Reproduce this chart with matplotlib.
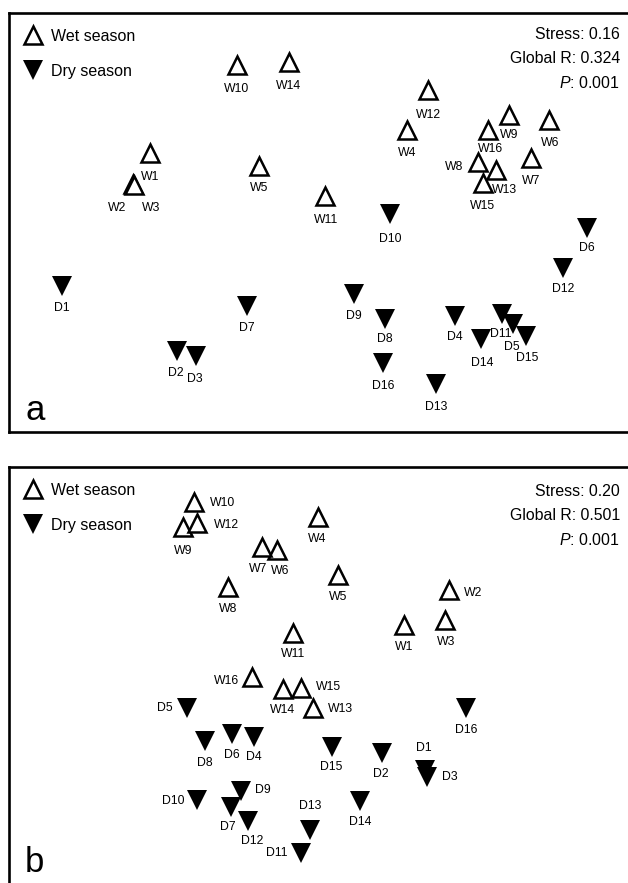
import matplotlib
matplotlib.use("Agg")
import matplotlib.pyplot as plt
from matplotlib.lines import Line2D

plt.rcParams['font.family'] = ['Liberation Sans', 'DejaVu Sans']
plt.rcParams['mathtext.fontset'] = 'custom'
plt.rcParams['mathtext.rm'] = 'Liberation Sans'
plt.rcParams['mathtext.it'] = 'Liberation Sans:italic'

sites = [str(i) for i in range(1, 17)]

# nMDS ordination, panel a
a_wet_x = [-1.70, -1.87, -1.86, 0.87, -0.61, 2.29, 2.11, 1.58, 1.89, -0.83, 0.05, 1.08, 1.76, -0.31, 1.63, 1.68]
a_wet_y = [0.69, 0.38, 0.37, 0.92, 0.56, 1.02, 0.64, 0.60, 1.07, 1.57, 0.26, 1.32, 0.52, 1.60, 0.39, 0.92]
a_dry_x = [-2.58, -1.43, -1.24, 1.35, 1.93, 2.67, -0.73, 0.65, 0.34, 0.70, 1.82, 2.43, 1.16, 1.61, 2.06, 0.63]
a_dry_y = [-0.64, -1.29, -1.34, -0.94, -1.02, -0.06, -0.84, -0.97, -0.72, 0.08, -0.92, -0.46, -1.62, -1.17, -1.14, -1.41]
a_stats = ["Stress: 0.16", "Global R: 0.324", "$P$: 0.001"]

# nMDS ordination, panel b
b_wet_x = [0.84, 1.29, 1.25, -0.02, 0.18, -0.43, -0.58, -0.92, -1.37, -1.26, -0.27, -1.23, -0.07, -0.37, -0.19, -0.68]
b_wet_y = [0.50, 0.85, 0.55, 1.58, 1.00, 1.25, 1.28, 0.88, 1.48, 1.73, 0.42, 1.52, -0.33, -0.14, -0.13, -0.02]
b_dry_x = [1.05, 0.62, 1.07, -0.66, -1.33, -0.88, -0.89, -1.15, -0.79, -1.23, -0.19, -0.72, -0.10, 0.40, 0.12, 1.46]
b_dry_y = [-0.95, -0.78, -1.02, -0.62, -0.33, -0.59, -1.32, -0.66, -1.16, -1.25, -1.78, -1.46, -1.55, -1.26, -0.72, -0.33]
b_stats = ["Stress: 0.20", "Global R: 0.501", "$P$: 0.001"]

# label offsets in pixels (dx, dy) from the marker centre
a_offsets = {
    'W1': (0, -24), 'W2': (-16, -24), 'W3': (17, -23), 'W4': (0, -23.5), 'W5': (0, -22),
    'W6': (1, -23.5), 'W7': (0, -23.5), 'W8': (-24, -5), 'W9': (0, -20.5), 'W10': (0, -24.5),
    'W11': (1, -24.5), 'W12': (0, -25), 'W13': (9, -20.5), 'W14': (0, -24), 'W15': (0, -23.5),
    'W16': (2, -19),
    'D1': (0, -22), 'D2': (-1, -22), 'D3': (-1, -22.5), 'D4': (0, -21.5), 'D5': (-1, -23),
    'D6': (0, -20), 'D7': (0, -22), 'D8': (0, -20), 'D9': (0, -22.5), 'D10': (0, -25),
    'D11': (-1, -20), 'D12': (0, -21), 'D13': (0, -23), 'D14': (1, -24), 'D15': (1, -22),
    'D16': (0, -23),
}
b_offsets = {
    'W1': (0, -21.5), 'W2': (24, -2.5), 'W3': (1, -22), 'W4': (-1, -22), 'W5': (0, -22.5),
    'W6': (3, -20.5), 'W7': (-4, -22.5), 'W8': (0, -22.5), 'W9': (0, -23.5), 'W10': (29, -1.5),
    'W11': (0, -21), 'W12': (29, -2.5), 'W13': (27, -1), 'W14': (-1, -21), 'W15': (27, 0.5),
    'W16': (-26, -3.5),
    'D1': (-1, 22), 'D2': (-1, -21), 'D3': (23, 0), 'D4': (0, -20.5), 'D5': (-22, 0),
    'D6': (0, -21), 'D7': (-3, -20), 'D8': (0, -22), 'D9': (22, 1), 'D10': (-24, -0.5),
    'D11': (-24, 0), 'D12': (4, -20), 'D13': (0, 24), 'D14': (0, -21), 'D15': (-1, -20),
    'D16': (0, -22),
}

wet_style = dict(marker='^', ls='none', ms=13, mfc='white', mec='black', mew=1.8)
dry_style = dict(marker='v', ls='none', ms=14.5, mfc='black', mec='black', mew=0)


def draw_panel(ax, wx, wy, dx, dy, stats, offsets, letter, xlim, ylim, stats_top, stats_step, letter_y):
    ax.plot(dx, dy, zorder=3, **dry_style)
    for x, y in zip(wx, wy):
        ax.plot([x], [y], zorder=3, **wet_style)
    for name, x, y in zip(sites, wx, wy):
        ax.annotate('W' + name, (x, y), xytext=offsets['W' + name], textcoords='offset pixels',
                    ha='center', va='center', fontsize=8.8, zorder=4)
    for name, x, y in zip(sites, dx, dy):
        ax.annotate('D' + name, (x, y), xytext=offsets['D' + name], textcoords='offset pixels',
                    ha='center', va='center', fontsize=8.8, zorder=4)

    ax.set_xlim(xlim)
    ax.set_ylim(ylim)
    ax.set_xticks([])
    ax.set_yticks([])
    for s in ax.spines.values():
        s.set_linewidth(1.9)

    handles = [Line2D([], [], **wet_style), Line2D([], [], **dry_style)]
    ax.legend(handles, ['Wet season', 'Dry season'], loc='upper left', frameon=False,
              fontsize=11.5, handlelength=1.0, handletextpad=0.65, labelspacing=1.25,
              borderaxespad=0.6, borderpad=0.4)

    for i, s in enumerate(stats):
        ax.text(0.968, stats_top - i * stats_step, s, transform=ax.transAxes, ha='right',
                va='center', fontsize=11.4)
    ax.text(0.0254, letter_y, letter, transform=ax.transAxes, ha='left', va='baseline', fontsize=25)


fig = plt.figure(figsize=(6.28, 8.83), dpi=100)
ax_a = fig.add_axes([9 / 628, 1 - 432 / 883, 631 / 628, 419 / 883])
ax_b = fig.add_axes([9 / 628, 1 - 900 / 883, 631 / 628, 433 / 883])

draw_panel(ax_a, a_wet_x, a_wet_y, a_dry_x, a_dry_y, a_stats, a_offsets, 'a',
           (-3.11, 3.20), (-2.10, 2.09), 0.948, 0.0573, 0.0286)
draw_panel(ax_b, b_wet_x, b_wet_y, b_dry_x, b_dry_y, b_stats, b_offsets, 'b',
           (-3.11, 3.20), (-2.25, 2.08), 0.944, 0.0566, 0.0647)

fig.savefig('out.png', dpi=100)
